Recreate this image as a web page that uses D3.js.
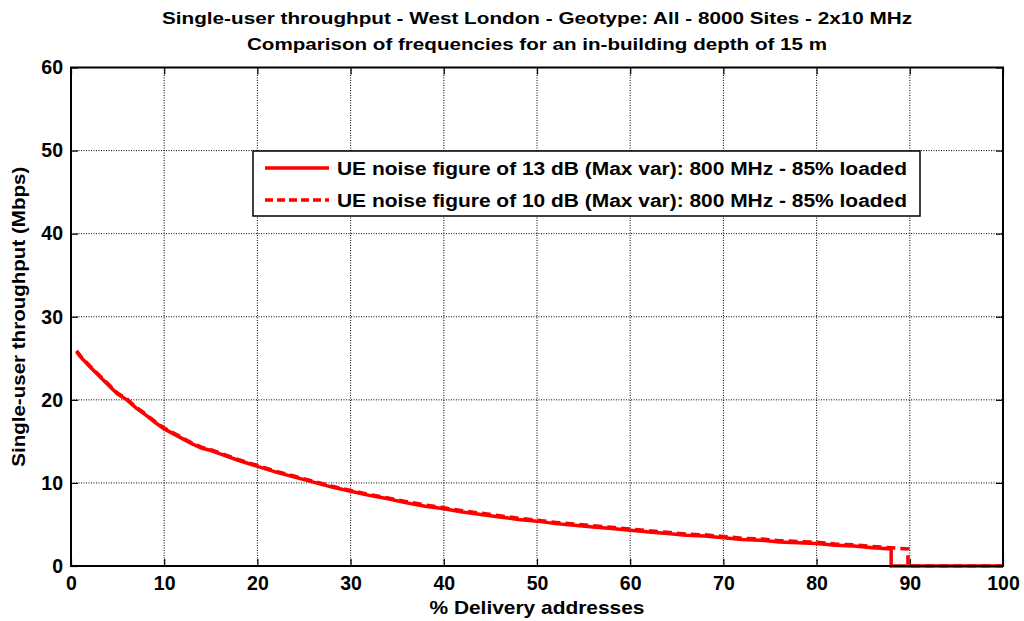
<!DOCTYPE html>
<html>
  <head>
    <meta charset="UTF-8">
    <title>Single-user throughput</title>
    <script src="https://d3js.org/d3.v7.min.js"></script>
    <style>
      body { margin: 0; background: #fff; }
      svg.chart {
        font-family: "Liberation Sans", Arial, sans-serif;
        font-weight: bold;
        background-color: #fff;
      }
      .grid line { stroke: #000; stroke-width: 1; stroke-dasharray: 1,1.5; }
      .tick text { font-size: 19.5px; font-weight: bold; fill: #000; }
    </style>
  </head>
  <body>
    <div id="chart"></div>
    <script>

      // Data
      const pctSolid = [0.6, 1, 2, 3, 4, 5, 6, 7, 8, 9, 10, 11, 12, 13, 14, 15, 16, 18, 20, 22, 24, 26, 28, 30,
        32, 34, 36, 38, 40, 42, 44, 46, 48, 50, 52, 54, 56, 58, 60, 62, 64, 66, 68, 70, 72, 74, 76, 78, 80,
        82, 84, 86, 88, 88, 100];
      const valSolid = [25.8, 25.2, 24.0, 22.9, 21.8, 20.7, 20.0, 19.0, 18.2, 17.3, 16.5, 15.9, 15.3, 14.7, 14.2, 13.9, 13.5, 12.7, 12.0, 11.3, 10.7, 10.1, 9.5, 9.0,
        8.5, 8.1, 7.6, 7.2, 6.9, 6.5, 6.2, 5.9, 5.6, 5.4, 5.1, 4.9, 4.7, 4.5, 4.3, 4.1, 3.9, 3.7, 3.6, 3.4, 3.2, 3.1, 2.9, 2.8, 2.7,
        2.5, 2.4, 2.2, 2.05, 0, 0];

      const pctDashed = [0.6, 1, 2, 3, 4, 5, 6, 7, 8, 9, 10, 11, 12, 13, 14, 15, 16, 18, 20, 22, 24, 26, 28, 30,
        32, 34, 36, 38, 40, 42, 44, 46, 48, 50, 52, 54, 56, 58, 60, 62, 64, 66, 68, 70, 72, 74, 76, 78, 80,
        82, 84, 86, 88, 89.8, 89.8, 100];
      const valDashed = [25.9, 25.3, 24.1, 23.0, 21.9, 20.8, 20.1, 19.1, 18.3, 17.4, 16.6, 16.0, 15.4, 14.8, 14.3, 14.0, 13.6, 12.8, 12.1, 11.4, 10.8, 10.2, 9.6, 9.1,
        8.6, 8.2, 7.75, 7.35, 7.0, 6.65, 6.35, 6.05, 5.75, 5.5, 5.25, 5.05, 4.85, 4.65, 4.45, 4.25, 4.05, 3.85, 3.75, 3.55, 3.35, 3.25, 3.05, 2.95, 2.85,
        2.65, 2.55, 2.35, 2.2, 2.05, 0, 0];

      const xTicks = [0, 10, 20, 30, 40, 50, 60, 70, 80, 90, 100];
      const yTicks = [0, 10, 20, 30, 40, 50, 60];

      const titleLines = [
        "Single-user throughput - West London - Geotype: All - 8000 Sites - 2x10 MHz",
        "Comparison of frequencies for an in-building depth of 15 m"
      ];
      const legendLabels = [
        "UE noise figure of 13 dB (Max var): 800 MHz - 85% loaded",
        "UE noise figure of 10 dB (Max var): 800 MHz - 85% loaded"
      ];

      const width = 1024;
      const height = 621;
      const margin = { top: 67.5, right: 21, bottom: 55, left: 71 };
      const innerWidth = width - margin.left - margin.right;
      const innerHeight = height - margin.top - margin.bottom;

      const svg = d3.select("#chart")
        .append("svg")
        .attr("width", width)
        .attr("height", height)
        .attr("class", "chart");

      const g = svg.append("g")
        .attr("transform", `translate(${margin.left}, ${margin.top})`);

      const x = d3.scaleLinear().domain([0, 100]).range([0, innerWidth]);
      const y = d3.scaleLinear().domain([0, 60]).range([innerHeight, 0]);

      // dotted grid
      const grid = g.append("g").attr("class", "grid");
      grid.selectAll(".vx")
        .data(xTicks.slice(1, -1))
        .enter().append("line")
        .attr("x1", d => x(d)).attr("x2", d => x(d))
        .attr("y1", 0).attr("y2", innerHeight);
      grid.selectAll(".hy")
        .data(yTicks.slice(1, -1))
        .enter().append("line")
        .attr("y1", d => y(d)).attr("y2", d => y(d))
        .attr("x1", 0).attr("x2", innerWidth);

      // axes, ticks pointing inward on all sides
      const tickLen = 7;
      g.append("g")
        .attr("transform", `translate(0, ${innerHeight})`)
        .call(d3.axisBottom(x).tickValues(xTicks).tickSize(-tickLen).tickPadding(10))
        .call(a => a.select(".domain").remove());
      g.append("g")
        .call(d3.axisTop(x).tickValues(xTicks).tickSize(-tickLen))
        .call(a => a.select(".domain").remove())
        .call(a => a.selectAll("text").remove());
      g.append("g")
        .call(d3.axisLeft(y).tickValues(yTicks).tickSize(-tickLen).tickPadding(8))
        .call(a => a.select(".domain").remove());
      g.append("g")
        .attr("transform", `translate(${innerWidth}, 0)`)
        .call(d3.axisRight(y).tickValues(yTicks).tickSize(-tickLen))
        .call(a => a.select(".domain").remove())
        .call(a => a.selectAll("text").remove());
      g.selectAll(".tick line").attr("stroke", "#000").attr("stroke-width", 1.2);
      g.selectAll(".tick text").attr("font-family", "'Liberation Sans', Arial, sans-serif");

      // lines
      const line = d3.line()
        .x(d => x(d[0]))
        .y(d => y(d[1]));

      const solidData = d3.zip(pctSolid, valSolid);
      const dashedData = d3.zip(pctDashed, valDashed);

      g.append("path")
        .datum(dashedData)
        .attr("fill", "none")
        .attr("stroke", "#ff0000")
        .attr("stroke-width", 3.5)
        .attr("stroke-dasharray", "9,5")
        .attr("d", line);

      g.append("path")
        .datum(solidData)
        .attr("fill", "none")
        .attr("stroke", "#ff0000")
        .attr("stroke-width", 3.5)
        .attr("d", line);

      // frame
      g.append("rect")
        .attr("x", 0).attr("y", 0)
        .attr("width", innerWidth).attr("height", innerHeight)
        .attr("fill", "none")
        .attr("stroke", "#000")
        .attr("stroke-width", 2);

      // legend
      const legend = g.append("g")
        .attr("transform", `translate(${253 - margin.left}, ${151 - margin.top})`);
      legend.append("rect")
        .attr("width", 667).attr("height", 65)
        .attr("fill", "#fff")
        .attr("stroke", "#000")
        .attr("stroke-width", 1.5);
      legendLabels.forEach((lab, i) => {
        const ly = 17 + i * 32;
        legend.append("line")
          .attr("x1", 12).attr("x2", 76)
          .attr("y1", ly).attr("y2", ly)
          .attr("stroke", "#ff0000")
          .attr("stroke-width", 3.5)
          .attr("stroke-dasharray", i === 1 ? "8,4" : null);
        legend.append("text")
          .attr("x", 84).attr("y", ly + 6.5)
          .attr("font-size", "18px")
          .attr("textLength", 570)
          .attr("lengthAdjust", "spacingAndGlyphs")
          .text(lab);
      });

      // title
      const titleWidths = [750, 580];
      svg.selectAll(".title")
        .data(titleLines)
        .enter().append("text")
        .attr("x", margin.left + innerWidth / 2)
        .attr("y", (d, i) => 24 + i * 26)
        .attr("text-anchor", "middle")
        .attr("font-size", "17px")
        .attr("textLength", (d, i) => titleWidths[i])
        .attr("lengthAdjust", "spacingAndGlyphs")
        .text(d => d);

      // axis labels
      svg.append("text")
        .attr("x", margin.left + innerWidth / 2)
        .attr("y", 614)
        .attr("text-anchor", "middle")
        .attr("font-size", "19px")
        .attr("textLength", 215)
        .attr("lengthAdjust", "spacingAndGlyphs")
        .text("% Delivery addresses");

      svg.append("text")
        .attr("transform", `translate(25, ${margin.top + innerHeight / 2}) rotate(-90)`)
        .attr("text-anchor", "middle")
        .attr("font-size", "19px")
        .attr("textLength", 300)
        .attr("lengthAdjust", "spacingAndGlyphs")
        .text("Single-user throughput (Mbps)");

    </script>
  </body>
</html>
